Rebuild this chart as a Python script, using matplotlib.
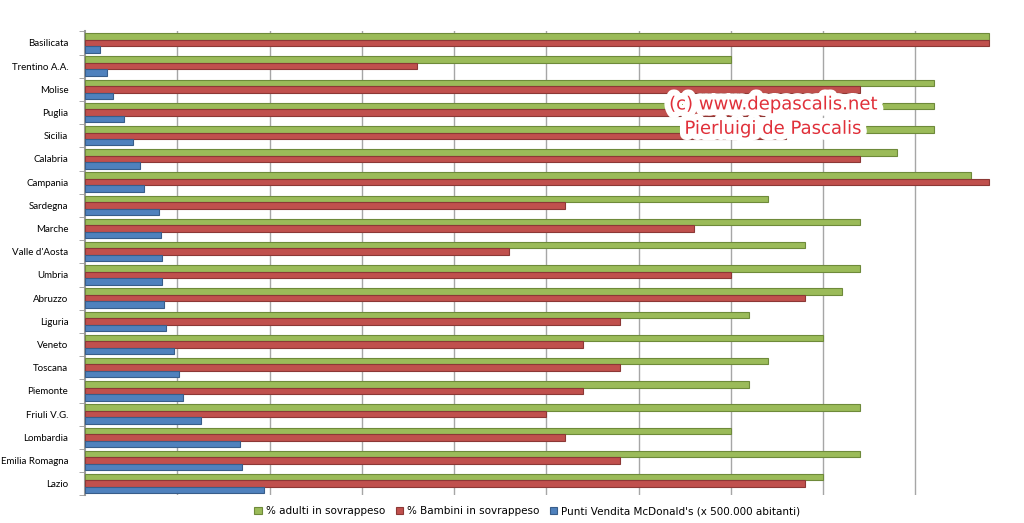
import numpy as np
import matplotlib.pyplot as plt
import matplotlib.patheffects as pe

regions = ['Basilicata', 'Trentino A.A.', 'Molise', 'Puglia', 'Sicilia', 'Calabria',
           'Campania', 'Sardegna', 'Marche', "Valle d'Aosta", 'Umbria', 'Abruzzo',
           'Liguria', 'Veneto', 'Toscana', 'Piemonte', 'Friuli V.G.', 'Lombardia',
           'Emilia Romagna', 'Lazio']
adulti = [49, 35, 46, 46, 46, 44, 48, 37, 42, 39, 42, 41,
          36, 40, 37, 36, 42, 35, 42, 40]
bambini = [49, 18, 42, 37, 38, 42, 49, 26, 33, 23, 35, 39,
           29, 27, 29, 27, 25, 26, 29, 39]
mcdonalds = [0.8, 1.2, 1.5, 2.1, 2.6, 3.0, 3.2, 4.0, 4.1, 4.2, 4.2, 4.3,
             4.4, 4.8, 5.1, 5.3, 6.3, 8.4, 8.5, 9.7]
legend_labels = ['% adulti in sovrappeso', '% Bambini in sovrappeso',
                 "Punti Vendita McDonald's (x 500.000 abitanti)"]

colors = ['#9BBB59', '#C0504D', '#4F81BD']
edges = ['#6E8A3A', '#8C3836', '#385D8A']

fig = plt.figure(figsize=(10.24, 5.23), dpi=100)
ax = fig.add_axes([0.083, 0.053, 0.901, 0.887])

y = np.arange(len(regions))
h = 0.28
for i, (vals, lab) in enumerate(zip([adulti, bambini, mcdonalds], legend_labels)):
    ax.barh(y + (i - 1) * h, vals, height=h, color=colors[i], edgecolor=edges[i],
            linewidth=0.8, label=lab, zorder=3)

ax.set_ylim(len(regions) - 0.5, -0.5)
ax.set_xlim(0, 50)
ax.set_yticks(y)
ax.set_yticklabels(regions, fontsize=7, family='Lato')
ax.set_yticks(np.arange(len(regions) + 1) - 0.5, minor=True)
ax.tick_params(axis='y', which='major', length=0, pad=12)
ax.tick_params(axis='y', which='minor', length=4, color='#999999', direction='out')
ax.set_xticks(np.arange(5, 50, 5))
ax.set_xticklabels([])
ax.tick_params(axis='x', length=0)
ax.grid(axis='x', color='#A6A6A6', linewidth=1, zorder=0)
for s in ['top', 'right', 'bottom']:
    ax.spines[s].set_visible(False)
ax.spines['left'].set_color('#999999')
ax.spines['left'].set_linewidth(1.5)

glow = [pe.withStroke(linewidth=9, foreground='#FFFFFF')]
ax.text(37.3, 2.65, '(c) www.depascalis.net', color='#E0303A', fontsize=13,
        ha='center', va='center', zorder=5, path_effects=glow)
ax.text(37.3, 3.7, 'Pierluigi de Pascalis', color='#E0303A', fontsize=13,
        ha='center', va='center', zorder=5, path_effects=glow)

fig.legend(loc='lower center', bbox_to_anchor=(0.515, -0.005), ncol=3, frameon=False,
           fontsize=7.5, handlelength=0.7, handleheight=0.7, handletextpad=0.4,
           columnspacing=1.0)

fig.savefig('out.png', dpi=100)
